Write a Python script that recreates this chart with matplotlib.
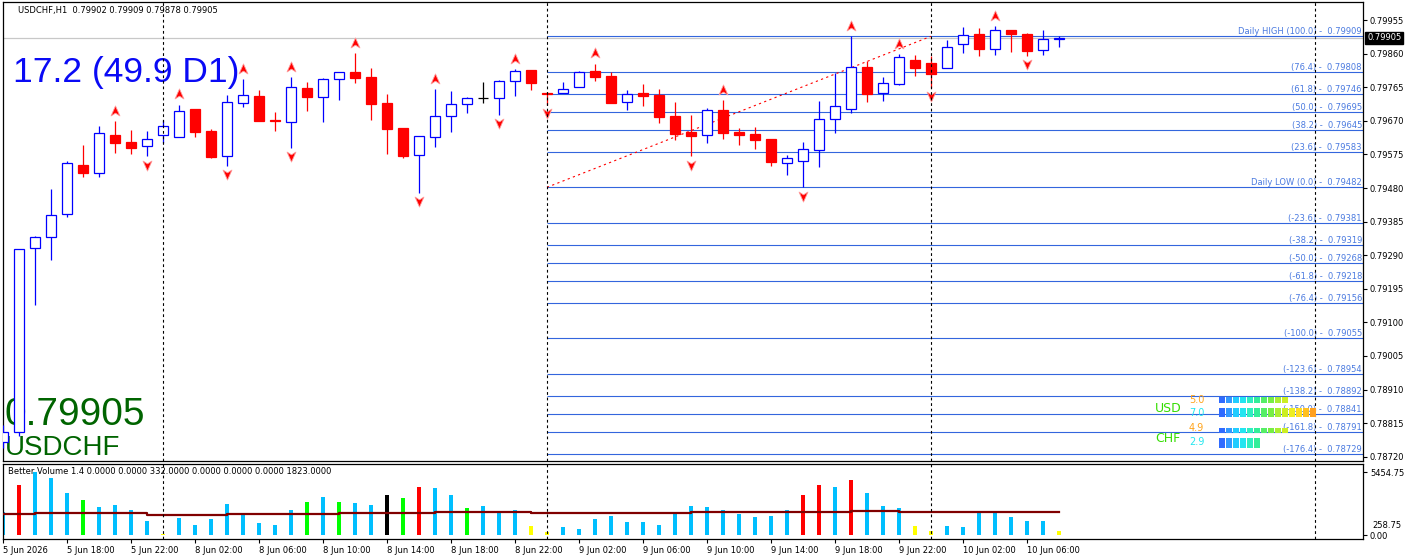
import numpy as np
import matplotlib
matplotlib.use("Agg")
import matplotlib.pyplot as plt
from matplotlib.path import Path
from matplotlib.transforms import offset_copy, blended_transform_factory

plt.rcParams['font.family'] = 'DejaVu Sans'
plt.rcParams['font.size'] = 6

# ---------------- data (USDCHF H1) ----------------
opens = [0.78762, 0.78790, 0.79310, 0.79342, 0.79406, 0.79545, 0.79522, 0.79630, 0.79610, 0.79599,
         0.79630, 0.79624, 0.79703, 0.79641, 0.79570, 0.79720, 0.79740, 0.79672, 0.79667, 0.79763,
         0.79737, 0.79788, 0.79808, 0.79794, 0.79720, 0.79650, 0.79573, 0.79624, 0.79684, 0.79717,
         0.79734, 0.79734, 0.79783, 0.79814, 0.79749, 0.79749, 0.79766, 0.79811, 0.79797, 0.79723,
         0.79749, 0.79743, 0.79684, 0.79638, 0.79630, 0.79700, 0.79638, 0.79633, 0.79619, 0.79551,
         0.79556, 0.79587, 0.79675, 0.79703, 0.79822, 0.79749, 0.79774, 0.79842, 0.79833, 0.79819,
         0.79887, 0.79915, 0.79873, 0.79927, 0.79915, 0.79870, 0.79902]
highs = [0.78810, 0.79308, 0.79344, 0.79477, 0.79556, 0.79602, 0.79655, 0.79669, 0.79644, 0.79641,
         0.79672, 0.79715, 0.79703, 0.79647, 0.79743, 0.79788, 0.79757, 0.79695, 0.79794, 0.79780,
         0.79791, 0.79808, 0.79862, 0.79819, 0.79746, 0.79650, 0.79627, 0.79760, 0.79754, 0.79737,
         0.79780, 0.79785, 0.79816, 0.79814, 0.79751, 0.79780, 0.79811, 0.79831, 0.79808, 0.79757,
         0.79774, 0.79760, 0.79723, 0.79686, 0.79706, 0.79729, 0.79650, 0.79652, 0.79619, 0.79573,
         0.79610, 0.79726, 0.79805, 0.79909, 0.79839, 0.79794, 0.79859, 0.79856, 0.79853, 0.79898,
         0.79935, 0.79932, 0.79938, 0.79927, 0.79918, 0.79927, 0.79909]
lows = [0.78745, 0.78779, 0.79149, 0.79276, 0.79398, 0.79511, 0.79511, 0.79579, 0.79576, 0.79570,
        0.79607, 0.79624, 0.79624, 0.79565, 0.79542, 0.79709, 0.79669, 0.79641, 0.79593, 0.79698,
        0.79667, 0.79729, 0.79777, 0.79672, 0.79576, 0.79565, 0.79466, 0.79596, 0.79638, 0.79692,
        0.79720, 0.79686, 0.79740, 0.79757, 0.79715, 0.79749, 0.79766, 0.79783, 0.79720, 0.79700,
        0.79712, 0.79664, 0.79616, 0.79570, 0.79607, 0.79619, 0.79602, 0.79590, 0.79542, 0.79517,
        0.79482, 0.79539, 0.79636, 0.79692, 0.79723, 0.79726, 0.79771, 0.79797, 0.79763, 0.79819,
        0.79862, 0.79853, 0.79856, 0.79865, 0.79853, 0.79856, 0.79878]
closes = [0.78790, 0.79308, 0.79342, 0.79404, 0.79551, 0.79522, 0.79636, 0.79607, 0.79593, 0.79619,
          0.79655, 0.79698, 0.79638, 0.79568, 0.79723, 0.79743, 0.79669, 0.79669, 0.79766, 0.79737,
          0.79788, 0.79808, 0.79791, 0.79717, 0.79647, 0.79570, 0.79627, 0.79684, 0.79717, 0.79734,
          0.79734, 0.79783, 0.79811, 0.79777, 0.79746, 0.79760, 0.79808, 0.79794, 0.79720, 0.79746,
          0.79740, 0.79681, 0.79633, 0.79627, 0.79700, 0.79636, 0.79630, 0.79616, 0.79553, 0.79565,
          0.79590, 0.79675, 0.79712, 0.79822, 0.79746, 0.79777, 0.79850, 0.79819, 0.79802, 0.79879,
          0.79913, 0.79873, 0.79927, 0.79915, 0.79867, 0.79901, 0.79905]

volumes = [2020, 4330, 5450, 4940, 3660, 3030, 2425, 2600, 2165, 1210,
           90, 1500, 870, 1385, 2685, 1730, 1040, 870, 2165, 2860,
           3290, 2860, 2770, 2600, 3465, 3200, 4160, 4070, 3465, 2340,
           2510, 1990, 2165, 780, 290, 690, 520, 1385, 1645, 1125,
           1125, 870, 1905, 2510, 2425, 2165, 1820, 1560, 1645, 2165,
           3465, 4330, 4160, 4765, 3640, 2510, 2340, 780, 370, 780,
           690, 1905, 1905, 1560, 1210, 1210, 332]
# Better Volume classes: b normal, r climax, g churn, y low volume, k climax+churn
vol_kind = ['b', 'r', 'b', 'b', 'b', 'g', 'b', 'b', 'b', 'b',
            'y', 'b', 'b', 'b', 'b', 'b', 'b', 'b', 'b', 'g',
            'b', 'g', 'b', 'b', 'k', 'g', 'r', 'b', 'b', 'g',
            'b', 'b', 'b', 'y', 'y', 'b', 'b', 'b', 'b', 'b',
            'b', 'b', 'b', 'b', 'b', 'b', 'b', 'b', 'b', 'b',
            'r', 'r', 'b', 'r', 'b', 'b', 'b', 'y', 'y', 'b',
            'b', 'b', 'b', 'b', 'b', 'b', 'y']
vol_avg = [1780, 1780, 1870, 1870, 1870, 1870, 1870, 1870, 1870, 1760,
           1760, 1760, 1760, 1760, 1845, 1845, 1845, 1845, 1845, 1845,
           1845, 1935, 1935, 1935, 1935, 1935, 1935, 2000, 2000, 2000,
           2000, 2000, 2000, 1935, 1935, 1935, 1935, 1935, 1935, 1935,
           1935, 1935, 1935, 2020, 2020, 2020, 2020, 2020, 2020, 2020,
           2020, 2020, 2020, 2105, 2105, 2105, 2020, 2020, 2020, 2020,
           2020, 2020, 2020, 2020, 2020, 2020, 2020]

up_fractals = [7, 11, 15, 18, 22, 27, 32, 37, 45, 53, 56, 62]
down_fractals = [9, 14, 18, 26, 31, 34, 43, 50, 58, 64]

fib_ratios = [100.0, 76.4, 61.8, 50.0, 38.2, 23.6, 0.0, -23.6, -38.2, -50.0,
              -61.8, -76.4, -100.0, -123.6, -138.2, -150.0, -161.8, -176.4]
fib_levels = [0.79909, 0.79808, 0.79746, 0.79695, 0.79645, 0.79583, 0.79482, 0.79381, 0.79319, 0.79268,
              0.79218, 0.79156, 0.79055, 0.78954, 0.78892, 0.78841, 0.78791, 0.78729]
fib_start = 34

day_starts = [10, 34, 58, 82]
tick_pos = [0, 4, 8, 12, 16, 20, 24, 28, 32, 36, 40, 44, 48, 52, 56, 60, 64]
tick_labels = ['5 Jun 2026', '5 Jun 18:00', '5 Jun 22:00', '8 Jun 02:00', '8 Jun 06:00',
               '8 Jun 10:00', '8 Jun 14:00', '8 Jun 18:00', '8 Jun 22:00', '9 Jun 02:00',
               '9 Jun 06:00', '9 Jun 10:00', '9 Jun 14:00', '9 Jun 18:00', '9 Jun 22:00',
               '10 Jun 02:00', '10 Jun 06:00']
price_ticks = [0.79955, 0.79860, 0.79765, 0.79670, 0.79575, 0.79480, 0.79385,
               0.79290, 0.79195, 0.79100, 0.79005, 0.78910, 0.78815, 0.78720]

cs_names = ['USD', 'CHF']
cs_values = [5.0, 7.0, 4.9, 2.9]

# ---------------- figure layout (pixel boxes) ----------------
W, H = 1410, 560
fig = plt.figure(figsize=(W / 100, H / 100), dpi=100, facecolor='white')


def px_box(x0, y0, x1, y1):
    return [x0 / W, 1 - y1 / H, (x1 - x0) / W, (y1 - y0) / H]


ax = fig.add_axes(px_box(3, 2, 1363, 461))
axv = fig.add_axes(px_box(3, 464, 1363, 539), sharex=ax)

x = np.arange(len(opens))
o = np.array(opens)
h = np.array(highs)
l = np.array(lows)
c = np.array(closes)

BLUE = '#0000ff'
RED = '#ff0000'

# ---------------- main price panel ----------------
ax.axhline(closes[-1], color='#c8c8c8', lw=0.9, zorder=1)

ax.hlines(fib_levels, fib_start, 85, colors='#3366dd', lw=0.8, zorder=1.5)
for r, lvl in zip(fib_ratios, fib_levels):
    if r == 100.0:
        lab = f'Daily HIGH ({r:.1f}) -  {lvl:.5f}'
    elif r == 0.0:
        lab = f'Daily LOW ({r:.1f}) -  {lvl:.5f}'
    else:
        lab = f'({r:.1f}) -  {lvl:.5f}'
    ax.text(84.93, lvl, lab, ha='right', va='bottom', fontsize=6, color='#4a7ae0', zorder=2)

ax.plot([fib_start, day_starts[2]], [fib_levels[6], fib_levels[0]], color=RED,
        ls=(0, (2, 3)), lw=0.8, zorder=2)

cols = np.where(c > o, BLUE, np.where(c < o, RED, '#000000'))
faces = np.where(c > o, 'white', cols)
ax.vlines(x, l, h, colors=cols, lw=0.9, zorder=3)
ax.bar(x, np.abs(c - o), 0.66, bottom=np.minimum(o, c), color=faces, edgecolor=cols,
       linewidth=0.9, zorder=4)

up_arrow = Path([(0, 1), (0.8, -0.8), (0, -0.3), (-0.8, -0.8), (0, 1)],
                [Path.MOVETO, Path.LINETO, Path.LINETO, Path.LINETO, Path.CLOSEPOLY])
down_arrow = Path([(0, -1), (0.8, 0.8), (0, 0.3), (-0.8, 0.8), (0, -1)],
                  [Path.MOVETO, Path.LINETO, Path.LINETO, Path.LINETO, Path.CLOSEPOLY])
ax.plot(up_fractals, h[up_fractals], ls='none', marker=up_arrow, ms=8, mfc=RED, mec='#ff9a9a',
        mew=0.6, transform=offset_copy(ax.transData, fig=fig, y=7.5, units='points'), zorder=5)
ax.plot(down_fractals, l[down_fractals], ls='none', marker=down_arrow, ms=8, mfc=RED, mec='#ff9a9a',
        mew=0.6, transform=offset_copy(ax.transData, fig=fig, y=-6, units='points'), zorder=5)

for d in day_starts:
    ax.axvline(d, color='black', ls=(0, (2.5, 2.5)), lw=0.8, zorder=6)
    axv.axvline(d, color='black', ls=(0, (2.5, 2.5)), lw=0.8, zorder=6)

ax.set_xlim(0, 85)
ax.set_ylim(0.78708, 0.80006)
ax.yaxis.tick_right()
ax.set_yticks(price_ticks)
ax.set_yticklabels([f'{p:.5f}' for p in price_ticks])
ax.tick_params(axis='y', length=3, width=0.8, pad=2, labelsize=6)
ax.tick_params(axis='x', bottom=False, labelbottom=False)

tr = blended_transform_factory(ax.transAxes, ax.transData)
ax.text(1.003, closes[-1], f'{closes[-1]:.5f}', transform=tr, va='center', ha='left', fontsize=6,
        color='white', bbox=dict(boxstyle='square,pad=0.2', fc='black', ec='black'), clip_on=False)

# big on-chart texts
ax.text(13 / W, 1 - 82 / H, '17.2 (49.9 D1)', transform=fig.transFigure, family='Liberation Sans',
        fontsize=25.5, color='#0a0af5', va='baseline', ha='left', zorder=0.5)
ax.text(5 / W, 1 - 425 / H, f'{closes[-1]:.5f}', transform=fig.transFigure, family='Liberation Sans',
        fontsize=28, color='#006400', va='baseline', ha='left', zorder=0.5)
ax.text(5 / W, 1 - 455 / H, 'USDCHF', transform=fig.transFigure, family='Liberation Sans',
        fontsize=20, color='#006400', va='baseline', ha='left', zorder=0.5)
fig.text(18 / W, 1 - 11 / H, f'USDCHF,H1  {opens[-1]:.5f} {highs[-1]:.5f} {lows[-1]:.5f} {closes[-1]:.5f}',
         va='center', ha='left', fontsize=6)

# ---------------- Better Volume panel ----------------
kind_colors = {'b': '#00bfff', 'r': '#ff0000', 'g': '#00ff00', 'y': '#ffff00', 'k': '#000000'}
axv.bar(x, volumes, 0.19, color=[kind_colors[k] for k in vol_kind], zorder=2)
axv.step(x, vol_avg, where='post', color='#800000', lw=1.6, zorder=3)
axv.set_ylim(-346, 6150)
axv.yaxis.tick_right()
axv.set_yticks([0, 5454.75])
axv.set_yticklabels(['0.00', '5454.75'])
axv.tick_params(axis='y', length=3, width=0.8, pad=2, labelsize=6)
axv.set_xticks(tick_pos)
axv.set_xticklabels(tick_labels, ha='left')
axv.tick_params(axis='x', length=3, width=0.8, pad=2, labelsize=6)
fig.text(1372 / W, 1 - 525 / H, '258.75', fontsize=6, va='center', ha='left')
fig.text(8 / W, 1 - 472 / H,
         'Better Volume 1.4 0.0000 0.0000 332.0000 0.0000 0.0000 0.0000 1823.0000',
         fontsize=6, va='center', ha='left')

for a in (ax, axv):
    for s in a.spines.values():
        s.set_color('black')
        s.set_linewidth(0.9)

# ---------------- currency strength meter ----------------
seg_colors = ['#2f6bff', '#3399ff', '#22ccff', '#22e5f0', '#2eeec0', '#33ee99', '#55ee66',
              '#77ee44', '#aaee33', '#ccee22', '#eeee22', '#ffdd22', '#ffc020', '#ffa020']
row_centers = [5, 17.5, 35.5, 48]
row_heights = [6, 9, 5, 10]
axc = fig.add_axes(px_box(1219, 395, 1317, 450))
axc.axis('off')
axc.set_xlim(0, 14)
axc.set_ylim(55, 0)
for v, yc, rh in zip(cs_values, row_centers, row_heights):
    n = int(round(v * 2))
    axc.bar(np.arange(n), rh, 0.84, bottom=yc - rh / 2, align='edge', color=seg_colors[:n])

num_colors = ['#ffa31a', '#22e6ee', '#ffa31a', '#22e6ee']
for v, yc, nc in zip(cs_values, [400, 413, 428, 442], num_colors):
    fig.text(1189 / W, 1 - yc / H, f'{v:.1f}', color=nc, fontsize=7, va='center', ha='left')
for name, yc in zip(cs_names, [409, 439]):
    fig.text(1155 / W, 1 - yc / H, name, color='#33dd00', fontsize=9, va='center', ha='left')

fig.savefig('out.png', dpi=100, facecolor='white')
